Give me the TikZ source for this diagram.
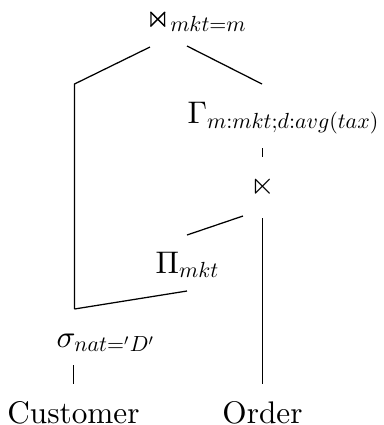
\documentclass[tikz,border=0pt]{standalone}
\usepackage{amsmath,amssymb}
\usetikzlibrary{calc}
% math letters scaled from the 10pt designs at every size
\DeclareFontFamily{OML}{cmmx}{\skewchar\font'177}
\DeclareFontShape{OML}{cmmx}{m}{it}{<->cmmi10}{}
\DeclareSymbolFont{letters}{OML}{cmmx}{m}{it}
\DeclareFontFamily{OT1}{cmrx}{\hyphenchar\font45}
\DeclareFontShape{OT1}{cmrx}{m}{n}{<->cmr10}{}
\DeclareSymbolFont{operators}{OT1}{cmrx}{m}{n}
\DeclareFontFamily{OMS}{cmsx}{\skewchar\font'60}
\DeclareFontShape{OMS}{cmsx}{m}{n}{<->cmsy10}{}
\DeclareSymbolFont{symbols}{OMS}{cmsx}{m}{n}
\begin{document}
\begin{tikzpicture}[x=0.32pt,y=-0.32pt,
  op/.style={inner sep=0pt, anchor=base west},
  rel/.style={inner sep=0pt, anchor=base}]
  \useasboundingbox (0,0) rectangle (384,425);
  % base relations
  \node[rel] (cust) at (73.5,423.5) {Customer};
  \node[rel] (ord) at (262.5,423.5) {Order};
  % operators
  \node[op] (sel) at (56,347) {$\sigma_{nat='D'}$};
  \node[op] (proj) at (155,273) {$\Pi_{mkt}$};
  \node[inner sep=0pt] (semi) at (262.5,186.5) {$\ltimes$};
  \node[op] (agg) at (187,123) {$\Gamma_{m:mkt;d:avg(tax)}$};
  \node[op] (join) at (145,27) {$\Join_{mkt=m}$};
  % ports of the edges
  \coordinate (fork) at (74.5,309);
  \coordinate (bend) at (74.5,84);
  \coordinate (join-l) at (150,47);
  \coordinate (join-r) at (187,46);
  \coordinate (agg-top) at (262,84);
  \coordinate (proj-top) at (187,235);
  \coordinate (proj-bot) at (187,291);
  \coordinate (semi-in) at (243,216);
  % edges
  \draw[shorten <=5.5pt, shorten >=4.2pt] (cust.north) -- (cust.north |- sel.south);
  \draw[shorten <=5.4pt, shorten >=6.7pt] (ord.north) -- (semi.south);
  \draw[shorten <=6pt, shorten >=4.1pt] (semi.north) -- (semi.north |- agg.south);
  \draw (fork) -- (bend) -- (join-l);
  \draw (fork) -- (proj-bot);
  \draw (proj-top) -- (semi-in);
  \draw (agg-top) -- (join-r);
\end{tikzpicture}
\end{document}
